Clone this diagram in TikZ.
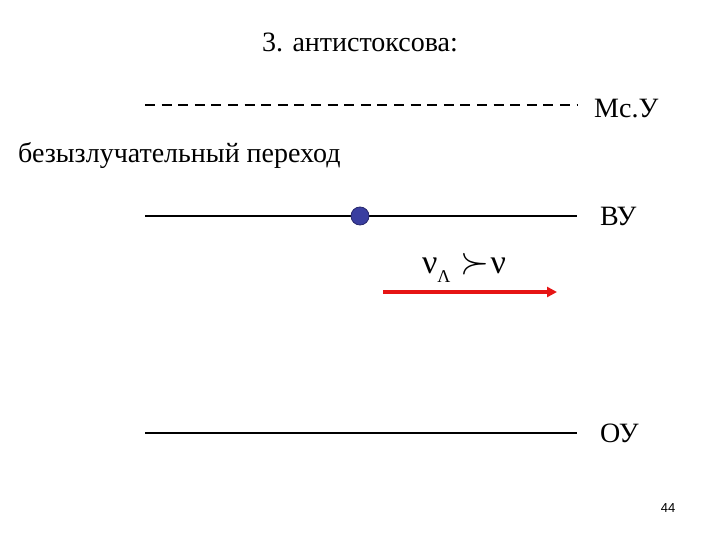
\documentclass[tikz,border=0pt]{standalone}
\usepackage{fontspec}
\setmainfont{Liberation Serif}
\usetikzlibrary{arrows.meta}
\definecolor{dotblue}{RGB}{58,62,160}
\definecolor{dotedge}{RGB}{40,40,110}
\definecolor{arrred}{RGB}{230,20,20}
\begin{document}
\begin{tikzpicture}[x=1pt,y=-1pt,
  lbl/.style={font=\fontsize{28}{32}\selectfont, inner sep=0pt},
  level/.style={line width=2pt, black},
  arr/.style={line width=3.5pt, arrred, -{Triangle[length=10pt,width=10pt]}}]
\useasboundingbox (0,0) rectangle (720,540);
\node[lbl] (title) at (360,42) {3. антистоксова:};
\coordinate (ms1) at (145,105); \coordinate (ms2) at (577,105);
\draw[level, dash pattern=on 10pt off 6.6pt] (ms1) -- (ms2);
\node[lbl, anchor=west] (msu) at (594,109) {Мс.У};
\node[lbl, anchor=west] (trans) at (18,156) {безызлучательный переход};
\coordinate (vu1) at (145,216); \coordinate (vu2) at (577,216);
\draw[level] (vu1) -- (vu2);
\node[lbl, anchor=west] (vu) at (600,216) {ВУ};
\coordinate (ou1) at (145,433); \coordinate (ou2) at (577,433);
\draw[level] (ou1) -- (ou2);
\node[lbl, anchor=west] (ou) at (600,433) {ОУ};
\node[circle, fill=dotblue, draw=dotedge, line width=0.8pt, minimum size=18pt, inner sep=0pt] (dot) at (360,216) {};
\node[inner sep=0pt, font=\fontsize{34}{36}\selectfont] (f) at (464,268) {ν\raisebox{-9pt}{\fontsize{18}{20}\selectfont Λ}\hspace{10pt}\raisebox{0pt}{\scalebox{1.5}{$\succ$}}\hspace{1pt}ν};
\coordinate (a1) at (383,292); \coordinate (a2) at (557,292);
\draw[arr] (a1) -- (a2);
\node[inner sep=0pt, font=\fontsize{13}{15}\selectfont] (num) at (668,508) {\fontspec{Liberation Sans}44};
\end{tikzpicture}
\end{document}
